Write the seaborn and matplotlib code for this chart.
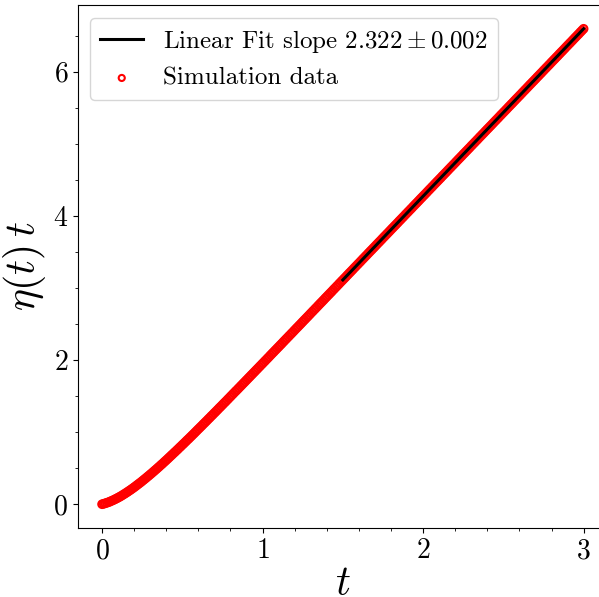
import numpy as np
import pandas as pd
import matplotlib
matplotlib.use("Agg")
import matplotlib.pyplot as plt
import seaborn as sns

plt.rcParams["font.family"] = ["cmr10", "DejaVu Serif"]
plt.rcParams["mathtext.fontset"] = "cm"
plt.rcParams["axes.unicode_minus"] = False
plt.rcParams["axes.formatter.use_mathtext"] = True

# Simulation output: eta(t) * t sampled on a uniform time grid
t_values = np.linspace(0.0, 3.0, 301)
eta_t_values = [
    0.000, 0.006, 0.013, 0.020, 0.028, 0.037, 0.047, 0.057, 0.068, 0.079,
    0.091, 0.103, 0.116, 0.130, 0.144, 0.158, 0.173, 0.188, 0.203, 0.219,
    0.235, 0.252, 0.269, 0.286, 0.303, 0.321, 0.339, 0.357, 0.376, 0.394,
    0.413, 0.432, 0.451, 0.471, 0.490, 0.510, 0.530, 0.550, 0.570, 0.591,
    0.611, 0.632, 0.653, 0.674, 0.695, 0.716, 0.737, 0.758, 0.780, 0.801,
    0.823, 0.844, 0.866, 0.888, 0.909, 0.931, 0.953, 0.975, 0.997, 1.020,
    1.042, 1.064, 1.086, 1.109, 1.131, 1.153, 1.176, 1.198, 1.221, 1.243,
    1.266, 1.288, 1.311, 1.334, 1.356, 1.379, 1.402, 1.424, 1.447, 1.470,
    1.493, 1.516, 1.539, 1.562, 1.584, 1.607, 1.630, 1.653, 1.676, 1.699,
    1.722, 1.745, 1.768, 1.791, 1.814, 1.837, 1.860, 1.883, 1.906, 1.929,
    1.952, 1.975, 1.998, 2.021, 2.044, 2.068, 2.091, 2.114, 2.137, 2.160,
    2.183, 2.206, 2.229, 2.253, 2.276, 2.299, 2.322, 2.345, 2.368, 2.391,
    2.415, 2.438, 2.461, 2.484, 2.507, 2.531, 2.554, 2.577, 2.600, 2.623,
    2.647, 2.670, 2.693, 2.716, 2.739, 2.763, 2.786, 2.809, 2.832, 2.856,
    2.879, 2.902, 2.925, 2.948, 2.972, 2.995, 3.018, 3.041, 3.065, 3.088,
    3.111, 3.134, 3.157, 3.181, 3.204, 3.227, 3.250, 3.274, 3.297, 3.320,
    3.343, 3.366, 3.390, 3.413, 3.436, 3.459, 3.483, 3.506, 3.529, 3.552,
    3.575, 3.599, 3.622, 3.645, 3.668, 3.692, 3.715, 3.738, 3.761, 3.784,
    3.808, 3.831, 3.854, 3.877, 3.900, 3.924, 3.947, 3.970, 3.993, 4.017,
    4.040, 4.063, 4.086, 4.109, 4.133, 4.156, 4.179, 4.202, 4.226, 4.249,
    4.272, 4.295, 4.318, 4.342, 4.365, 4.388, 4.411, 4.435, 4.458, 4.481,
    4.504, 4.527, 4.551, 4.574, 4.597, 4.620, 4.644, 4.667, 4.690, 4.713,
    4.736, 4.760, 4.783, 4.806, 4.829, 4.853, 4.876, 4.899, 4.922, 4.945,
    4.969, 4.992, 5.015, 5.038, 5.061, 5.085, 5.108, 5.131, 5.154, 5.178,
    5.201, 5.224, 5.247, 5.270, 5.294, 5.317, 5.340, 5.363, 5.387, 5.410,
    5.433, 5.456, 5.479, 5.503, 5.526, 5.549, 5.572, 5.596, 5.619, 5.642,
    5.665, 5.688, 5.712, 5.735, 5.758, 5.781, 5.805, 5.828, 5.851, 5.874,
    5.897, 5.921, 5.944, 5.967, 5.990, 6.014, 6.037, 6.060, 6.083, 6.106,
    6.130, 6.153, 6.176, 6.199, 6.222, 6.246, 6.269, 6.292, 6.315, 6.339,
    6.362, 6.385, 6.408, 6.431, 6.455, 6.478, 6.501, 6.524, 6.548, 6.571,
    6.594,
]

# Linear fit over the late-time window
fit_slope = 2.322
fit_slope_err = 0.002
fit_intercept = -0.372
fit_t = [1.5, 3.0]

sim = pd.DataFrame({"t": t_values, "eta_t": eta_t_values})
fit = pd.DataFrame({"t": fit_t, "eta_t": [fit_slope * v + fit_intercept for v in fit_t]})

fig = plt.figure(figsize=(5.99, 5.97), dpi=100)
ax = fig.add_axes([0.1302, 0.1156, 0.8843, 0.876])

sns.scatterplot(data=sim, x="t", y="eta_t", ax=ax, s=30, color="red",
                facecolor="none", edgecolor="red", linewidth=1.5,
                label="Simulation data", zorder=2)
sns.lineplot(data=fit, x="t", y="eta_t", ax=ax, color="black", linewidth=2.2,
             label=rf"Linear Fit slope ${fit_slope:.3f}\pm{fit_slope_err:.3f}$",
             zorder=3)

ax.set_xlabel(r"$t$", fontsize=30, labelpad=1)
ax.set_ylabel(r"$\eta(t)\,t$", fontsize=30)
ax.set_xticks([0, 1, 2, 3])
ax.set_yticks([0, 2, 4, 6])
ax.minorticks_on()
ax.tick_params(axis="both", which="major", labelsize=20)

handles, labels = ax.get_legend_handles_labels()
order = [labels.index(l) for l in labels if l.startswith("Linear")] + \
        [labels.index(l) for l in labels if l.startswith("Simulation")]
ax.legend([handles[i] for i in order], [labels[i] for i in order],
          loc="upper left", fontsize=18, handlelength=1.7, markerscale=0.8)

fig.savefig("out.png", dpi=100)
